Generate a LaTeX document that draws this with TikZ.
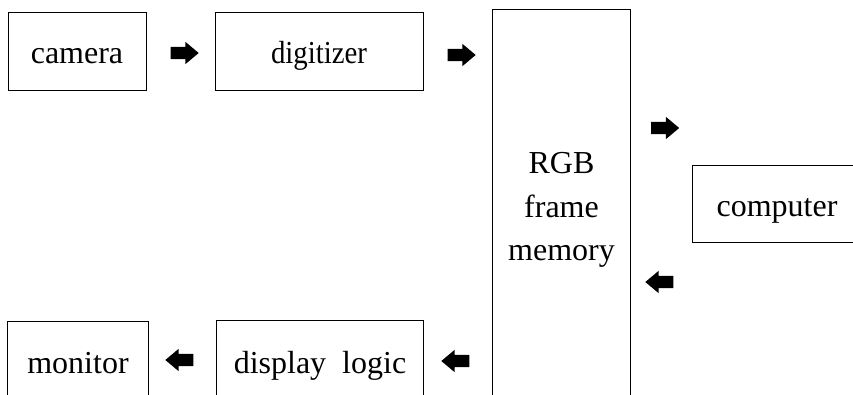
\documentclass[tikz,border=0pt]{standalone}
\usepackage{fontspec}
\setmainfont{Liberation Serif}
\usetikzlibrary{shapes.arrows}
\begin{document}
\begin{tikzpicture}[x=1pt,y=-1pt,
  box/.style={draw, line width=0.8pt},
  lbl/.style={font=\fontsize{32}{43.5}\selectfont, inner sep=0pt, align=center},
  one/.style={lbl, text height=29pt, text depth=4pt},
  blk/.style={single arrow, fill=black, draw=none, inner xsep=0pt, inner ysep=6pt,
    minimum height=28pt, single arrow head extend=5pt, single arrow tip angle=80, anchor=center},
  blkl/.style={blk, shape border rotate=180}]
\useasboundingbox (0,0) rectangle (853,394);
% closed boxes
\node[box, one, minimum width=138pt, minimum height=78pt] (camera) at (77,51) {camera};
\node[box, one, minimum width=208pt, minimum height=78pt] (digitizer) at (319,51) {\scalebox{0.9}[1]{digitizer}};
\node[box, one, minimum width=170pt, minimum height=77pt] (computer) at (777,203.5) {computer};
% open-bottom boxes
\node[lbl, minimum width=137pt, minimum height=400pt] (rgb) at (561.5,210) {RGB\\frame\\memory};
\draw[line width=0.8pt] (rgb.south west) -- (rgb.north west) -- (rgb.north east) -- (rgb.south east);
\node[one, minimum width=140pt, minimum height=78pt] (monitor) at (78,361) {monitor};
\draw[line width=0.8pt] (monitor.south west) -- (monitor.north west) -- (monitor.north east) -- (monitor.south east);
\node[one, minimum width=206pt, minimum height=80pt] (display) at (320,361) {display\ \ logic};
\draw[line width=0.8pt] (display.south west) -- (display.north west) -- (display.north east) -- (display.south east);
% block arrows
\node[blk] (a1) at (181,53) {};
\node[blk] (a2) at (458,55) {};
\node[blk] (a3) at (661.5,128) {};
\node[blkl] (a4) at (663,282) {};
\node[blkl] (a5) at (459,361) {};
\node[blkl] (a6) at (183,360) {};
\end{tikzpicture}
\end{document}
